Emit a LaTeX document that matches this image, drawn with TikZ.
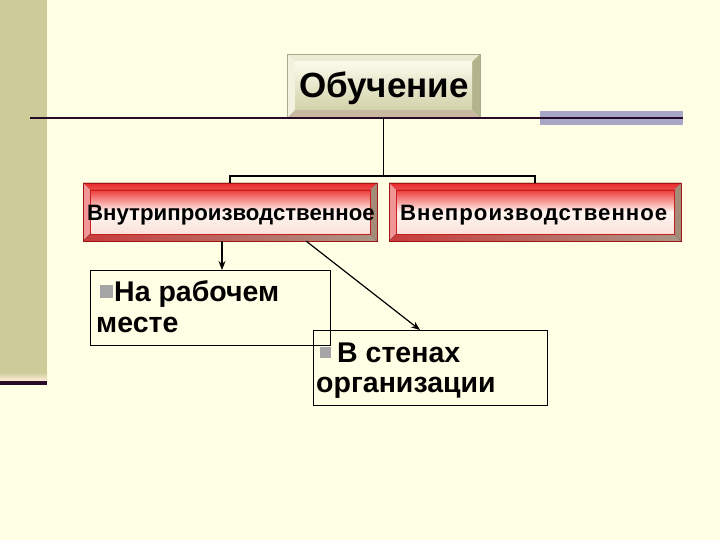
\documentclass[tikz,border=0pt]{standalone}
\usepackage{fontspec}
\setmainfont{Liberation Sans}
\newfontfamily\spaced[LetterSpace=4.5]{Liberation Sans}
\usetikzlibrary{calc,arrows.meta,backgrounds}
\definecolor{bgc}{RGB}{255,255,229}
\definecolor{band}{RGB}{204,204,153}
\definecolor{darkline}{RGB}{40,10,40}
\definecolor{barc}{RGB}{168,166,198}
\definecolor{bgrey}{RGB}{165,165,165}
\newcommand\bevelbox[7]{% name, depth, top, left, right, bottom, inner shading
  \fill[#3] (#1.north west) -- (#1.north east) -- ($(#1.north east)+(-#2,#2)$) -- ($(#1.north west)+(#2,#2)$) -- cycle;
  \fill[#4] (#1.north west) -- ($(#1.north west)+(#2,#2)$) -- ($(#1.south west)+(#2,-#2)$) -- (#1.south west) -- cycle;
  \fill[#5] (#1.north east) -- ($(#1.north east)+(-#2,#2)$) -- ($(#1.south east)+(-#2,-#2)$) -- (#1.south east) -- cycle;
  \fill[#6] (#1.south west) -- ($(#1.south west)+(#2,-#2)$) -- ($(#1.south east)+(-#2,-#2)$) -- (#1.south east) -- cycle;
  \shade[#7] ($(#1.north west)+(#2,#2)$) rectangle ($(#1.south east)+(-#2,-#2)$);
}
\tikzset{
  geom/.style={inner sep=0pt, outer sep=0pt, anchor=north west},
  plainbox/.style={geom, draw=black, line width=1pt},
  conn/.style={draw=black, line width=1.2pt},
  arr/.style={conn, -{Stealth[length=9pt,width=7pt]}},
  lbl/.style={inner sep=0pt, anchor=base west, font=\bfseries\fontsize{28.5}{31}\selectfont},
  bul/.style={fill=bgrey, inner sep=0pt, minimum size=13pt, anchor=south west},
  redtxt/.style={inner sep=0pt, anchor=base west, font=\bfseries\fontsize{22.2}{24}\selectfont},
  redtxtsp/.style={inner sep=0pt, anchor=base west, font=\spaced\bfseries\fontsize{22.2}{24}\selectfont},
}
\begin{document}
\begin{tikzpicture}[x=1pt,y=-1pt]
\useasboundingbox (0,0) rectangle (720,540);
\fill[bgc] (0,0) rectangle (720,540);
\fill[band] (0,0) rectangle (47,372);
\shade[top color=band, bottom color=bgc!70!pink] (0,372) rectangle (47,381);
\fill[darkline] (0,381) rectangle (47,385);
\fill[barc] (540,111) rectangle (683,125);

% top box
\node[geom, minimum width=193pt, minimum height=64pt] (o) at (287,54) {};
\bevelbox{o}{8}{fill={rgb,255:red,236;green,236;blue,214}}{fill={rgb,255:red,242;green,242;blue,222}}{fill={rgb,255:red,180;green,180;blue,140}}{fill={rgb,255:red,200;green,185;blue,160}}{top color={rgb,255:red,250;green,250;blue,235}, bottom color={rgb,255:red,210;green,210;blue,170}}
\draw[draw={rgb,255:red,170;green,170;blue,140}, line width=0.4pt] (o.north west) rectangle (o.south east);
\node[inner sep=0pt, anchor=base, font=\bfseries\fontsize{35}{38}\selectfont] (ot) at (384,98) {Обучение};

\draw[darkline, line width=2pt] (30,118) -- (683,118);

% second level
\node[geom, minimum width=294pt, minimum height=58pt] (b1) at (83,183) {};
\node[geom, minimum width=292pt, minimum height=58pt] (b2) at (389,183) {};
\foreach \b in {b1,b2}{
  \bevelbox{\b}{7}{top color={rgb,255:red,240;green,40;blue,40}, bottom color={rgb,255:red,225;green,80;blue,80}}{fill={rgb,255:red,240;green,150;blue,150}}{fill={rgb,255:red,165;green,140;blue,120}}{left color={rgb,255:red,200;green,60;blue,60}, right color={rgb,255:red,170;green,150;blue,135}}{top color={rgb,255:red,238;green,60;blue,60}, bottom color={rgb,255:red,250;green,225;blue,218}, middle color={rgb,255:red,255;green,246;blue,240}}
  \draw[draw={rgb,255:red,160;green,20;blue,20}, line width=0.5pt] (\b.north west) rectangle (\b.south east);
  \draw[draw={rgb,255:red,200;green,30;blue,30}, line width=0.5pt] ($(\b.north west)+(7,7)$) rectangle ($(\b.south east)+(-7,-7)$);
}
\node[redtxt] (t1) at (87,221) {Внутрипроизводственное};
\node[redtxtsp] (t2) at (400,221) {Внепроизводственное};

% connectors
\coordinate (jl) at (230,176);
\coordinate (jr) at (535,176);
\draw[conn] (o.south) -- (o.south |- jl);
\draw[conn] (jl |- b1.north) -- (jl) -- (jr) -- (jr |- b2.north);

% bottom boxes
\node[plainbox, minimum width=240pt, minimum height=75pt] (b3) at (90,270) {};
\node[plainbox, minimum width=234pt, minimum height=75pt] (b4) at (313,330) {};

\coordinate (a1) at (222,0);
\coordinate (a2) at (306,0);
\coordinate (a3) at (420,0);
\draw[arr] (b1.south -| a1) -- (b3.north -| a1);
\draw[arr] (b1.south -| a2) -- (b4.north -| a3);

\node[bul] (s3) at (100,298) {};
\node[lbl] (t3a) at (114,301.5) {На рабочем};
\node[lbl] (t3b) at (96,332.5) {месте};
\node[bul, minimum size=11pt] (s4) at (320,358) {};
\node[lbl] (t4a) at (337,362) {В стенах};
\node[lbl] (t4b) at (316,392) {организации};
\end{tikzpicture}
\end{document}
